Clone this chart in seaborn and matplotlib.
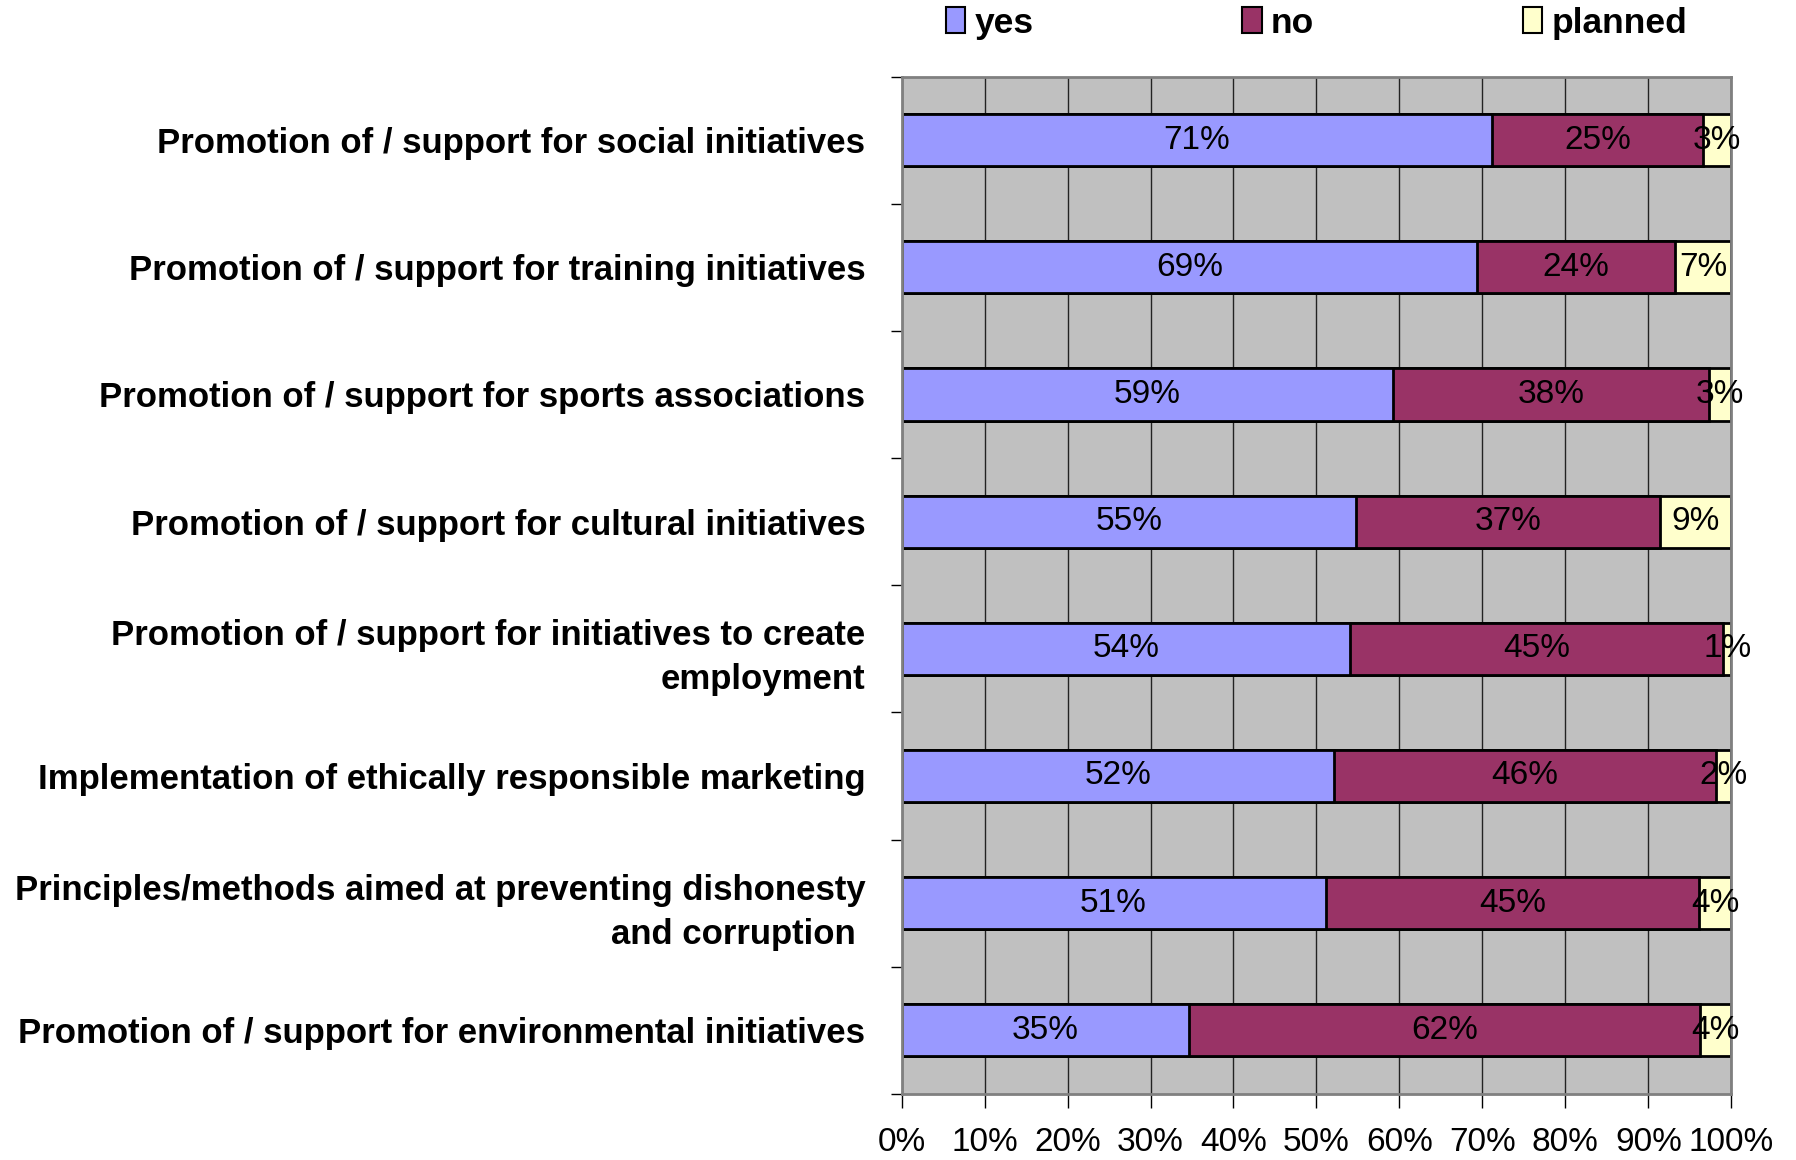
import matplotlib
matplotlib.use('Agg')
import matplotlib.pyplot as plt
import seaborn as sns
import pandas as pd
import numpy as np
from matplotlib.patches import Patch

categories = [
    "Promotion of / support for social initiatives",
    "Promotion of / support for training initiatives",
    "Promotion of / support for sports associations",
    "Promotion of / support for cultural initiatives",
    "Promotion of / support for initiatives to create\nemployment",
    "Implementation of ethically responsible marketing",
    "Principles/methods aimed at preventing dishonesty\nand corruption ",
    "Promotion of / support for environmental initiatives",
]
yes = [71.2, 69.4, 59.2, 54.8, 54.1, 52.1, 51.1, 34.6]
no = [25.4, 23.8, 38.1, 36.6, 44.9, 46.1, 45.0, 61.6]
planned = [3.4, 6.8, 2.7, 8.6, 1.0, 1.8, 3.9, 3.8]
series = ["yes", "no", "planned"]
colors = ["#9999FF", "#993366", "#FFFFCC"]
xticks = [0, 10, 20, 30, 40, 50, 60, 70, 80, 90, 100]
xticklabels = [f"{t}%" for t in xticks]

sns.set_theme(style="white")
plt.rcParams['font.family'] = ['Liberation Sans', 'DejaVu Sans']
plt.rcParams['text.color'] = 'black'
plt.rcParams['xtick.labelcolor'] = 'black'
plt.rcParams['ytick.labelcolor'] = 'black'

df = pd.DataFrame({"category": categories, "yes": yes, "no": no, "planned": planned})
df["cum_yes"] = df["yes"]
df["cum_no"] = df["yes"] + df["no"]
df["cum_planned"] = df["yes"] + df["no"] + df["planned"]

fig = plt.figure(figsize=(17.96, 11.6), dpi=100)
ax = fig.add_axes([0.502, 0.057, 0.462, 0.877])
ax.set_facecolor("#C0C0C0")
ax.set_axisbelow(True)
ax.xaxis.grid(True, color="#222222", lw=1)
ax.yaxis.grid(False)

for s, c in reversed(list(zip(series, colors))):
    sns.barplot(data=df, y="category", x="cum_" + s, orient="h", color=c,
                width=0.41, edgecolor="black", linewidth=2, saturation=1, ax=ax)

for i, row in df.iterrows():
    left = 0
    for s in series:
        v = row[s]
        ax.text(left + v / 2, i, f"{round(v)}%", ha="center", va="center",
                fontsize=24, color="black")
        left += v

ax.set_xlim(0, 100)
ax.set_ylim(7.5, -0.5)
ax.set_xlabel("")
ax.set_ylabel("")
ax.set_xticks(xticks)
ax.set_xticklabels(xticklabels, fontsize=24)
ax.tick_params(axis="x", length=10, width=1, color="black", pad=14,
               direction="out", bottom=True)
ax.set_yticks(range(len(categories)))
ax.set_yticklabels(categories, fontsize=25, fontweight="bold", linespacing=1.42)
ax.tick_params(axis="y", which="major", length=0, pad=26, left=False)
ax.set_yticks(np.arange(-0.5, len(categories) + 0.5, 1), minor=True)
ax.tick_params(axis="y", which="minor", length=8, width=1, color="black",
               left=True, direction="out")

for sp in ax.spines.values():
    sp.set_visible(True)
    sp.set_color("#808080")
    sp.set_linewidth(2)

handles = [Patch(facecolor=c, edgecolor="black", lw=1.5, label=s)
           for s, c in zip(series, colors)]
fig.legend(handles=handles, loc="center left", bbox_to_anchor=(0.5267, 0.980),
           ncol=3, frameon=False, prop={"weight": "bold", "size": 25.5},
           handlelength=0.55, handleheight=0.75, handletextpad=0.25,
           columnspacing=5.9, borderpad=0, borderaxespad=0)

fig.savefig("out.png", dpi=100)
